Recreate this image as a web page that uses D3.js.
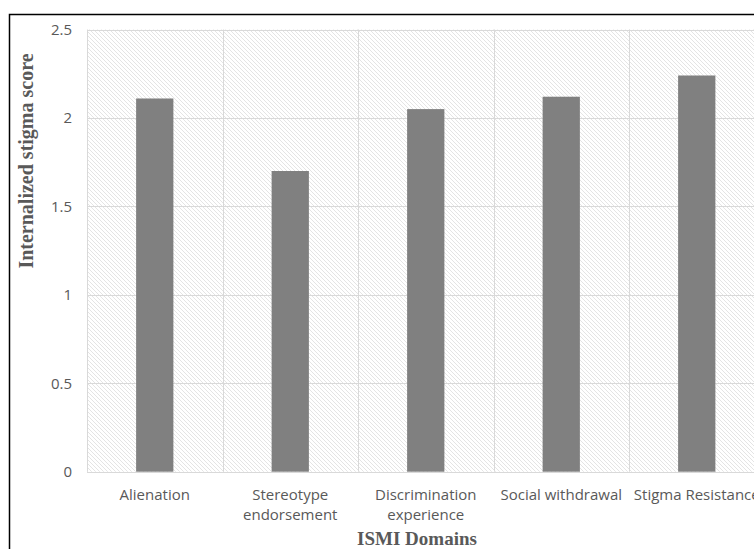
<!DOCTYPE html>
<html>
<head>
<meta charset="utf-8">
<script src="https://cdn.jsdelivr.net/npm/d3@7"></script>
<style>
  html, body { margin: 0; padding: 0; background: #ffffff; }
  svg { display: block; }
</style>
</head>
<body>
<svg id="chart" width="754" height="549"></svg>
<script>
// ISMI domain mean scores
const categories = [
  ["Alienation"],
  ["Stereotype", "endorsement"],
  ["Discrimination", "experience"],
  ["Social withdrawal"],
  ["Stigma Resistance"]
];
const scores = [2.11, 1.70, 2.05, 2.12, 2.24];
const yTicks = [0, 0.5, 1, 1.5, 2, 2.5];
const yTitle = "Internalized stigma score";
const xTitle = "ISMI Domains";

const W = 754, H = 549;
const plot = { left: 87, right: 764.5, top: 29.5, bottom: 471.7 };
const labelFont = "'Open Sans', Lato, sans-serif";
const titleFont = "'Liberation Serif', 'Times New Roman', serif";

const svg = d3.select("#chart");
const names = categories.map(c => c.join(" "));

const xBand = d3.scaleBand().domain(names).range([plot.left, plot.right]).padding(0);
const xBar = d3.scaleBand().domain(names).range([plot.left, plot.right])
  .paddingInner(0.725).paddingOuter(0.3625);
const y = d3.scaleLinear().domain([0, 2.5]).range([plot.bottom, plot.top]);

// diagonal hatch fill for the plot area
const defs = svg.append("defs");
const pat = defs.append("pattern")
  .attr("id", "hatch").attr("patternUnits", "userSpaceOnUse")
  .attr("width", 4).attr("height", 4);
pat.append("rect").attr("width", 4).attr("height", 4).attr("fill", "#ffffff");
pat.append("path")
  .attr("d", "M-1,-1L5,5M-1,3L1,5M3,-1L5,1")
  .attr("stroke", "#e4e4e4").attr("stroke-width", 1);

svg.append("rect")
  .attr("x", plot.left).attr("y", plot.top)
  .attr("width", plot.right - plot.left).attr("height", plot.bottom - plot.top)
  .attr("fill", "url(#hatch)");

// horizontal gridlines
svg.append("g").selectAll("line").data(yTicks).join("line")
  .attr("x1", plot.left).attr("x2", plot.right)
  .attr("y1", d => Math.round(y(d)) + 0.5).attr("y2", d => Math.round(y(d)) + 0.5)
  .attr("stroke", "#d9d9d9").attr("stroke-width", 1);

// vertical category separators
const edges = names.map(n => xBand(n)).concat([plot.right]);
svg.append("g").selectAll("line").data(edges).join("line")
  .attr("x1", d => Math.round(d) + 0.5).attr("x2", d => Math.round(d) + 0.5)
  .attr("y1", plot.top).attr("y2", plot.bottom)
  .attr("stroke", "#d9d9d9").attr("stroke-width", 1);

// bars
svg.append("g").selectAll("rect").data(scores).join("rect")
  .attr("x", (d, i) => xBar(names[i]))
  .attr("width", xBar.bandwidth())
  .attr("y", d => y(d))
  .attr("height", d => y(0) - y(d))
  .attr("fill", "#808080");

// y axis tick labels
const yAxis = d3.axisLeft(y).tickValues(yTicks).tickFormat(d3.format("~g")).tickSize(0).tickPadding(0);
const gy = svg.append("g").attr("transform", `translate(${72},0)`).call(yAxis);
gy.select(".domain").remove();
gy.selectAll("text")
  .attr("font-family", labelFont)
  .attr("font-size", 15).attr("fill", "#595959");

// x axis category labels
const xl = svg.append("g");
categories.forEach((lines, i) => {
  const cx = xBand(names[i]) + xBand.bandwidth() / 2;
  const t = xl.append("text")
    .attr("x", cx).attr("y", 500)
    .attr("text-anchor", "middle")
    .attr("font-family", labelFont)
    .attr("font-size", 15).attr("fill", "#595959");
  lines.forEach((ln, j) => {
    t.append("tspan").attr("x", cx).attr("dy", j === 0 ? 0 : 20).text(ln);
  });
});

// axis titles
svg.append("text")
  .attr("x", 417).attr("y", 545)
  .attr("text-anchor", "middle")
  .attr("font-family", titleFont)
  .attr("font-weight", "bold").attr("font-size", 19).attr("fill", "#595959")
  .text(xTitle);

svg.append("text")
  .attr("transform", "translate(33,161) rotate(-90)")
  .attr("text-anchor", "middle")
  .attr("font-family", titleFont)
  .attr("font-weight", "bold").attr("font-size", 20).attr("fill", "#595959")
  .text(yTitle);

// outer chart frame
svg.append("rect")
  .attr("x", 9.5).attr("y", 14.5).attr("width", 900).attr("height", 700)
  .attr("fill", "none").attr("stroke", "#000000").attr("stroke-width", 1.5);
</script>
</body>
</html>
